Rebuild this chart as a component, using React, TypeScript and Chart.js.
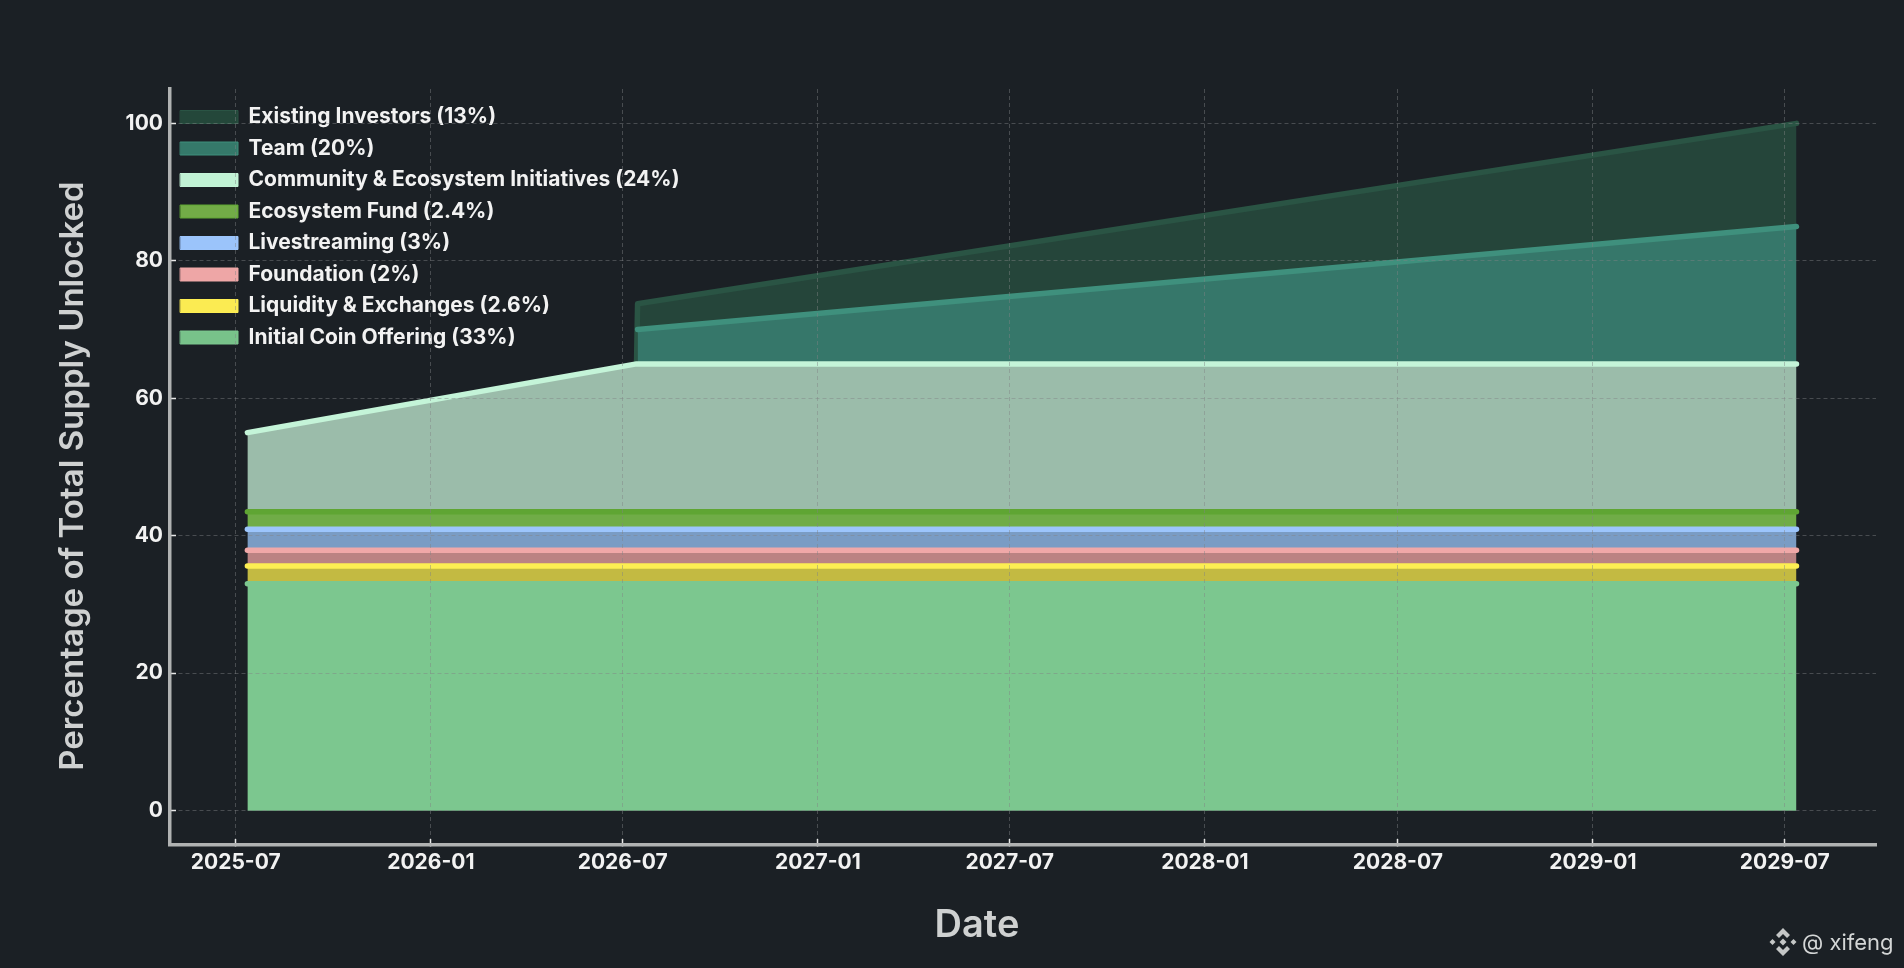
import { useEffect, useRef } from 'react';
import { Chart, registerables } from 'chart.js';

Chart.register(...registerables);

const dates = ['2025-07-12', '2026-07-14', '2026-07-15', '2029-07-12'];
const tickMonths = ['2025-07', '2026-01', '2026-07', '2027-01', '2027-07', '2028-01', '2028-07', '2029-01', '2029-07'];
const yTicks = [0, 20, 40, 60, 80, 100];

// share of each tranche on the stack, bottom to top
const initialCoinOffering = [33, 33, 33, 33];
const liquidity = [2.6, 2.6, 2.6, 2.6];
const foundation = [2.3, 2.3, 2.3, 2.3];
const livestreaming = [3.05, 3.05, 3.05, 3.05];
const ecosystemFund = [2.55, 2.55, 2.55, 2.55];
const community = [11.5, 21.5, 21.5, 21.5];
const team = [null, null, 5, 20];
const existingInvestors = [null, 0, 3.75, 15];

const labels = [
  'Initial Coin Offering (33%)',
  'Liquidity & Exchanges (2.6%)',
  'Foundation (2%)',
  'Livestreaming (3%)',
  'Ecosystem Fund (2.4%)',
  'Community & Ecosystem Initiatives (24%)',
  'Team (20%)',
  'Existing Investors (13%)',
];
const series = [initialCoinOffering, liquidity, foundation, livestreaming, ecosystemFund, community, team, existingInvestors];
const fillColors = ['#7cc78f', '#c3ba42', '#bb8383', '#7a9cc4', '#70ac47', '#9bbcaa', '#36776a', '#25453a'];
const lineColors = ['#7cc78f', '#fdee52', '#f0a8a8', '#9cc5fc', '#5fa533', '#c4f4d8', '#3f907d', '#2a5444'];
const legendColors = ['#78c28a', '#fbeb52', '#eea6a6', '#9bc4fb', '#72ac47', '#c1f2d5', '#35796a', '#24473a'];

const BG = '#1b2025';
const FONT = 'Inter';
const GRID = 'rgba(128,130,132,0.45)';

const axisTitles = {
  id: 'axisTitles',
  afterDraw(chart: Chart) {
    const ctx = chart.ctx;
    ctx.save();
    ctx.fillStyle = '#cfd1d1';
    ctx.textAlign = 'center';
    ctx.textBaseline = 'middle';
    ctx.font = `600 38px ${FONT}`;
    ctx.fillText('Date', 977, 926);
    ctx.translate(73, 476);
    ctx.rotate(-Math.PI / 2);
    ctx.font = `600 33px ${FONT}`;
    ctx.fillText('Percentage of Total Supply Unlocked', 0, 0);
    ctx.restore();
  },
};

export default function App() {
  const canvasRef = useRef<HTMLCanvasElement>(null);

  useEffect(() => {
    if (!canvasRef.current) return;
    const chart = new Chart(canvasRef.current, {
      type: 'line',
      data: {
        datasets: series.map((values, i) => ({
          label: labels[i],
          data: values.map((v, j) => ({ x: Date.parse(dates[j]), y: v })),
          backgroundColor: fillColors[i],
          borderColor: lineColors[i],
          borderWidth: 5.5,
          borderCapStyle: 'round',
          borderJoinStyle: 'round',
          pointRadius: 0,
          tension: 0,
          fill: i === 0 ? 'origin' : '-1',
        })),
      },
      options: {
        responsive: false,
        animation: false,
        layout: { padding: { top: 89, right: 28 } },
        plugins: {
          tooltip: { enabled: false },
          legend: {
            position: 'chartArea',
            align: 'start',
            reverse: true,
            title: { display: true, text: '', padding: { top: 96, bottom: 0 }, font: { lineHeight: 0 } },
            labels: {
              boxWidth: 57.5,
              boxHeight: 13,
              padding: 10.5,
              color: '#f2f2f2',
              font: { family: FONT, size: 21, weight: '700' },
              generateLabels: (c: Chart) =>
                Chart.defaults.plugins.legend.labels.generateLabels(c).map((l: any) => ({
                  ...l,
                  fillStyle: legendColors[l.datasetIndex],
                  strokeStyle: lineColors[l.datasetIndex],
                  lineWidth: 1,
                })),
            },
          },
        },
        scales: {
          x: {
            type: 'linear',
            min: Date.parse('2025-04-30'),
            max: Date.parse('2029-09-25'),
            afterBuildTicks: (s: any) => {
              s.ticks = tickMonths.map((m) => ({ value: Date.parse(m + '-01') }));
            },
            afterFit: (s: any) => {
              s.height = 123;
            },
            grid: { z: 1, color: GRID, lineWidth: 1, tickLength: -6, tickColor: '#e8e8e8', tickWidth: 1.5 },
            border: { z: 2, color: '#b0b2b2', width: 3.5, dash: [4, 3] },
            ticks: {
              autoSkip: false,
              maxRotation: 0,
              padding: 11,
              color: '#f2f2f2',
              font: { family: FONT, size: 21, weight: '700' },
              callback: (v: any) => new Date(v).toISOString().slice(0, 7),
            },
          },
          y: {
            stacked: true,
            min: -5,
            max: 105,
            afterBuildTicks: (s: any) => {
              s.ticks = yTicks.map((value) => ({ value }));
            },
            afterFit: (s: any) => {
              s.width = 170;
            },
            grid: { z: 1, color: GRID, lineWidth: 1, tickLength: -6, tickColor: '#e8e8e8', tickWidth: 1.5 },
            border: { z: 2, color: '#b0b2b2', width: 3.5, dash: [4, 3] },
            ticks: {
              padding: 13,
              color: '#f2f2f2',
              font: { family: FONT, size: 21, weight: '700' },
            },
          },
        },
      },
      plugins: [axisTitles],
    } as any);
    return () => chart.destroy();
  }, []);

  return (
    <div style={{ position: 'fixed', inset: 0, background: BG, overflow: 'hidden' }}>
      <canvas ref={canvasRef} width={1904} height={968} style={{ display: 'block' }} />
      <svg width="28" height="28" viewBox="0 0 28 28" style={{ position: 'absolute', left: 1769, top: 928 }} fill="#c4c6c6">
        <path d="M14 0 L21 7 L18 10 L14 6 L10 10 L7 7 Z" />
        <path d="M14 28 L21 21 L18 18 L14 22 L10 18 L7 21 Z" />
        <path d="M14 10.5 L17.5 14 L14 17.5 L10.5 14 Z" />
        <path d="M3.5 11 L6.5 14 L3.5 17 L0.5 14 Z" />
        <path d="M24.5 11 L27.5 14 L24.5 17 L21.5 14 Z" />
      </svg>
      <div style={{ position: 'absolute', left: 1802, top: 929, font: `400 22px ${FONT}`, color: '#d4d6d6', whiteSpace: 'nowrap' }}>
        @ xifeng
      </div>
    </div>
  );
}
